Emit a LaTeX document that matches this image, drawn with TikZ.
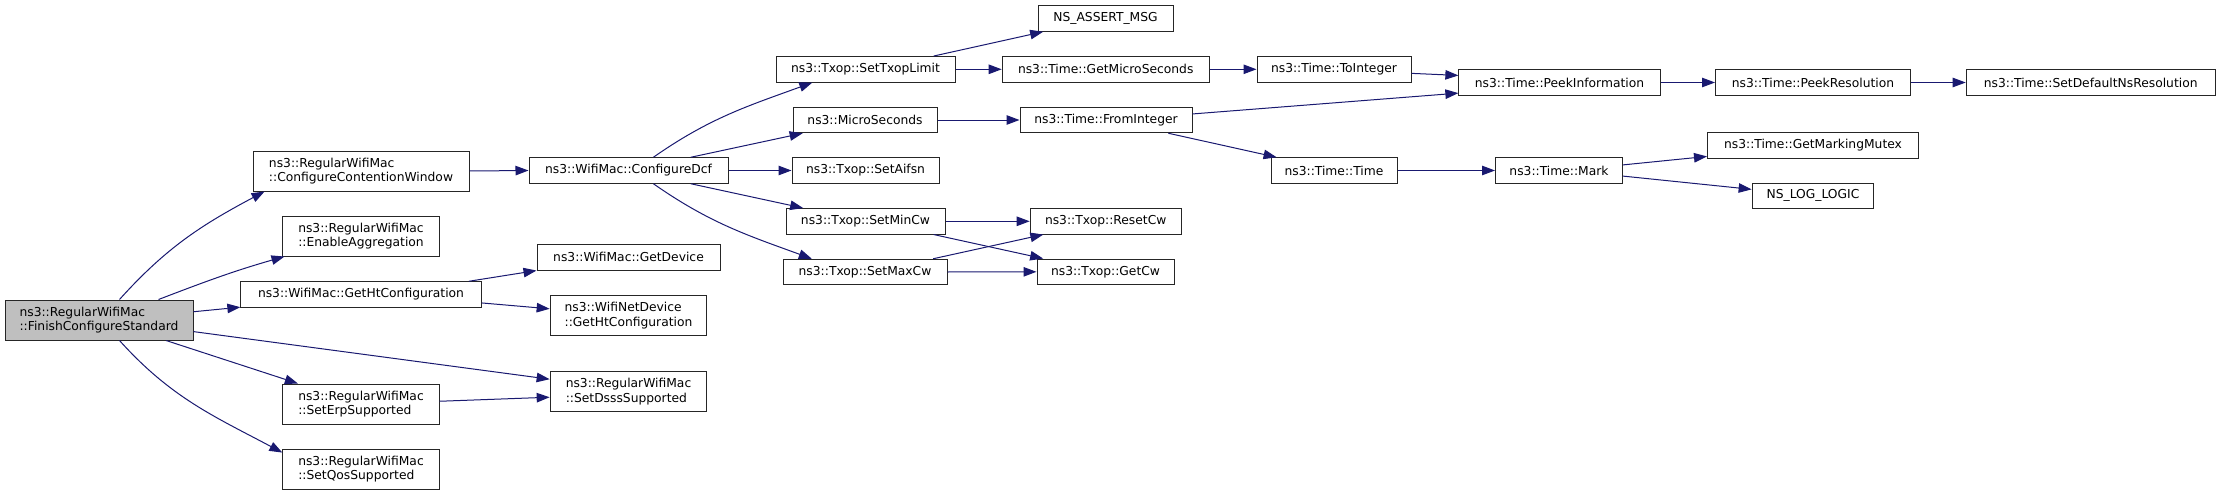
\documentclass[tikz,border=0pt]{standalone}
\usepackage{fontspec}
\setmainfont{DejaVu Sans}
\usepackage{tikz}
\usetikzlibrary{arrows.meta}

\definecolor{callblue}{HTML}{191970}
\definecolor{rootgray}{HTML}{BFBFBF}

\tikzset{
  fn/.style={draw=black!85, line width=1pt, fill=white, minimum height=25.5pt,
    inner sep=0pt, font=\fontsize{12.3}{14.3}\selectfont},
  fntwo/.style={fn, minimum height=40pt, align=left},
  rootfn/.style={fntwo, fill=rootgray},
  call/.style={draw=callblue, line width=1pt, -{Triangle[length=13pt,width=9.5pt]}}
}

\begin{document}
\begin{tikzpicture}[x=1pt, y=1pt]
        \useasboundingbox (0,0) rectangle (2220,-495);

        % Radice e primo livello
        \node[rootfn, minimum width=188pt] (root) at (99,-320) {ns3::RegularWifiMac\\::FinishConfigureStandard};
        \node[fntwo, minimum width=216pt] (ccw) at (361,-171) {ns3::RegularWifiMac\\::ConfigureContentionWindow};
        \node[fntwo, minimum width=156.3pt] (ea) at (361,-236) {ns3::RegularWifiMac\\::EnableAggregation};
        \node[fn, minimum width=240.3pt] (ght) at (361,-294.5) {ns3::WifiMac::GetHtConfiguration};
        \node[fntwo, minimum width=156.3pt] (erp) at (361,-404) {ns3::RegularWifiMac\\::SetErpSupported};
        \node[fntwo, minimum width=156.3pt] (qos) at (361,-469.3) {ns3::RegularWifiMac\\::SetQosSupported};

        % Secondo livello
        \node[fn, minimum width=199pt] (cdcf) at (628.5,-170.5) {ns3::WifiMac::ConfigureDcf};
        \node[fn, minimum width=183pt] (gd) at (628.5,-257.3) {ns3::WifiMac::GetDevice};
        \node[fntwo, minimum width=156.7pt] (wnd) at (628.5,-315.7) {ns3::WifiNetDevice\\::GetHtConfiguration};
        \node[fntwo, minimum width=156.7pt] (dsss) at (628.5,-391.7) {ns3::RegularWifiMac\\::SetDsssSupported};

        % Txop
        \node[fn, minimum width=179pt] (txl) at (865.5,-69.3) {ns3::Txop::SetTxopLimit};
        \node[fn, minimum width=144pt] (mus) at (865,-120) {ns3::MicroSeconds};
        \node[fn, minimum width=147pt] (aif) at (865.5,-170.5) {ns3::Txop::SetAifsn};
        \node[fn, minimum width=159pt] (minc) at (865.5,-221.3) {ns3::Txop::SetMinCw};
        \node[fn, minimum width=164pt] (maxc) at (865,-272) {ns3::Txop::SetMaxCw};

        % Terzo livello
        \node[fn, minimum width=135pt] (nam) at (1105.5,-18.5) {NS\_ASSERT\_MSG};
        \node[fn, minimum width=207pt] (gms) at (1105.7,-69.3) {ns3::Time::GetMicroSeconds};
        \node[fn, minimum width=172pt] (fint) at (1106,-120) {ns3::Time::FromInteger};
        \node[fn, minimum width=151pt] (rcw) at (1105.7,-221.3) {ns3::Txop::ResetCw};
        \node[fn, minimum width=137pt] (gcw) at (1105.5,-271.8) {ns3::Txop::GetCw};

        % Time
        \node[fn, minimum width=154pt] (toi) at (1334,-69.3) {ns3::Time::ToInteger};
        \node[fn, minimum width=126pt] (tt) at (1334,-170.5) {ns3::Time::Time};
        \node[fn, minimum width=201.3pt] (pinf) at (1559.5,-82.5) {ns3::Time::PeekInformation};
        \node[fn, minimum width=127pt] (mark) at (1559,-170.5) {ns3::Time::Mark};
        \node[fn, minimum width=195pt] (pres) at (1813,-82.5) {ns3::Time::PeekResolution};
        \node[fn, minimum width=211pt] (gmm) at (1813,-145.3) {ns3::Time::GetMarkingMutex};
        \node[fn, minimum width=121.7pt] (nll) at (1813,-195.8) {NS\_LOG\_LOGIC};
        \node[fn, minimum width=249pt] (sdns) at (2090.7,-82.5) {ns3::Time::SetDefaultNsResolution};

        % Chiamate dalla radice
        \draw[call] (root.45) to[out=48, in=-152] (ccw.-168);
        \draw[call] (root.19.6) to[out=21, in=-164] (ea.-165.3);
        \draw[call] (root.5.6) -- (ght.-174.5);
        \draw[call] (root.-7.7) -- (dsss.171.5);
        \draw[call] (root.-17.3) -- (erp.162.7);
        \draw[call] (root.-45) to[out=-48, in=152] (qos.168.4);

        \draw[call] (ccw.east) -- (cdcf.west);
        \draw[call] (ght.7.7) -- (gd.south west);
        \draw[call] (ght.-4.5) -- (wnd.175.1);
        \draw[call] (erp.2.9) -- (dsss.-176.9);

        % Chiamate di ConfigureDcf
        \draw[call] (cdcf.28.7) to[out=35, in=-160] (txl.-166.4);
        \draw[call] (cdcf.12) -- (mus.-168);
        \draw[call] (cdcf.east) -- (aif.west);
        \draw[call] (cdcf.-12) -- (minc.168.2);
        \draw[call] (cdcf.-28.7) to[out=-35, in=160] (maxc.166.3);

        \draw[call] (txl.11.6) -- (nam.-168);
        \draw[call] (txl.east) -- (gms.west);
        \draw[call] (mus.east) -- (fint.west);
        \draw[call] (minc.east) -- (rcw.west);
        \draw[call] (minc.-11.7) -- (gcw.168.7);
        \draw[call] (maxc.11.6) -- (rcw.-168.5);
        \draw[call] (maxc.east) -- (gcw.west);

        % Chiamate di Time
        \draw[call] (gms.east) -- (toi.west);
        \draw[call] (toi.-3.3) -- (pinf.176.7);
        \draw[call] (fint.4.6) -- (pinf.-174.6);
        \draw[call] (fint.-12.6) -- (tt.167.3);
        \draw[call] (tt.east) -- (mark.west);
        \draw[call] (pinf.east) -- (pres.west);
        \draw[call] (pres.east) -- (sdns.west);
        \draw[call] (mark.5.8) -- (gmm.-174.2);
        \draw[call] (mark.-5.8) -- (nll.174.3);
    \end{tikzpicture}
\end{document}
